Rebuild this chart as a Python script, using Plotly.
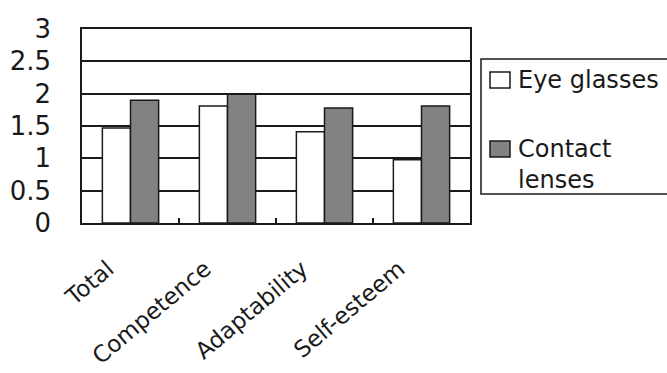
import plotly.graph_objects as go

# Mean scores by category for each type of vision correction
categories = ["Total", "Competence", "Adaptability", "Self-esteem"]
eye_glasses = [1.47, 1.81, 1.41, 0.98]
contact_lenses = [1.90, 1.99, 1.78, 1.81]
series_names = ["Eye glasses", "Contact<br>lenses"]
y_ticks = [0, 0.5, 1, 1.5, 2, 2.5, 3]

FONT = "DejaVu Sans"
INK = "#1a1a1a"
GRAY = "#828282"

W, H = 667, 373
L, R, T, B = 82, 197, 29, 150

fig = go.Figure()
fig.add_trace(go.Bar(
    x=categories, y=eye_glasses, name=series_names[0],
    marker=dict(color="white", line=dict(color=INK, width=1.5)),
))
fig.add_trace(go.Bar(
    x=categories, y=contact_lenses, name=series_names[1],
    marker=dict(color=GRAY, line=dict(color=INK, width=1.5)),
))

# pixel -> paper helpers for the hand-built legend
pw, ph = W - L - R, H - T - B
def px(x):
    return (x - L) / pw
def py(y):
    return (H - B - y) / ph

shapes = [
    # legend frame (runs off the right edge)
    dict(type="rect", xref="paper", yref="paper",
         x0=px(481), x1=px(700), y0=py(59), y1=py(194),
         line=dict(color=INK, width=1.5), fillcolor="white"),
    dict(type="rect", xref="paper", yref="paper",
         x0=px(490), x1=px(510), y0=py(72), y1=py(88),
         line=dict(color=INK, width=1.5), fillcolor="white"),
    dict(type="rect", xref="paper", yref="paper",
         x0=px(490), x1=px(510), y0=py(141), y1=py(157),
         line=dict(color=INK, width=1.5), fillcolor=GRAY),
]
annotations = [
    dict(xref="paper", yref="paper", x=px(516), y=py(80), text=series_names[0],
         showarrow=False, xanchor="left", yanchor="middle",
         font=dict(family=FONT, size=24, color=INK)),
    dict(xref="paper", yref="paper", x=px(516), y=py(133), text=series_names[1],
         showarrow=False, xanchor="left", yanchor="top", align="left",
         font=dict(family=FONT, size=24, color=INK)),
]

fig.update_layout(
    width=W, height=H,
    margin=dict(l=L, r=R, t=T, b=B, pad=0, autoexpand=False),
    barmode="group", bargap=0.42, bargroupgap=0,
    plot_bgcolor="white", paper_bgcolor="white",
    showlegend=False,
    shapes=shapes, annotations=annotations,
    font=dict(family=FONT, color=INK),
)
fig.update_yaxes(
    range=[0, 3], tickvals=y_ticks, ticktext=[f"{v:g}" for v in y_ticks],
    showgrid=True, gridcolor=INK, gridwidth=1.5,
    showline=True, linecolor=INK, linewidth=1.5, mirror=True,
    ticks="", ticklabelstandoff=24, automargin=False,
    tickfont=dict(family=FONT, size=26, color=INK),
    zeroline=False,
)
fig.update_xaxes(
    tickvals=categories,
    ticktext=[c + "\u00a0" * 4 for c in categories],
    showline=True, linecolor=INK, linewidth=1.5, mirror=True,
    ticks="inside", tickson="boundaries", ticklen=5, tickcolor=INK, tickwidth=1.5,
    tickangle=-40, tickfont=dict(family=FONT, size=23, color=INK),
    ticklabelstandoff=3, automargin=False,
)

fig.write_html("out.html")
